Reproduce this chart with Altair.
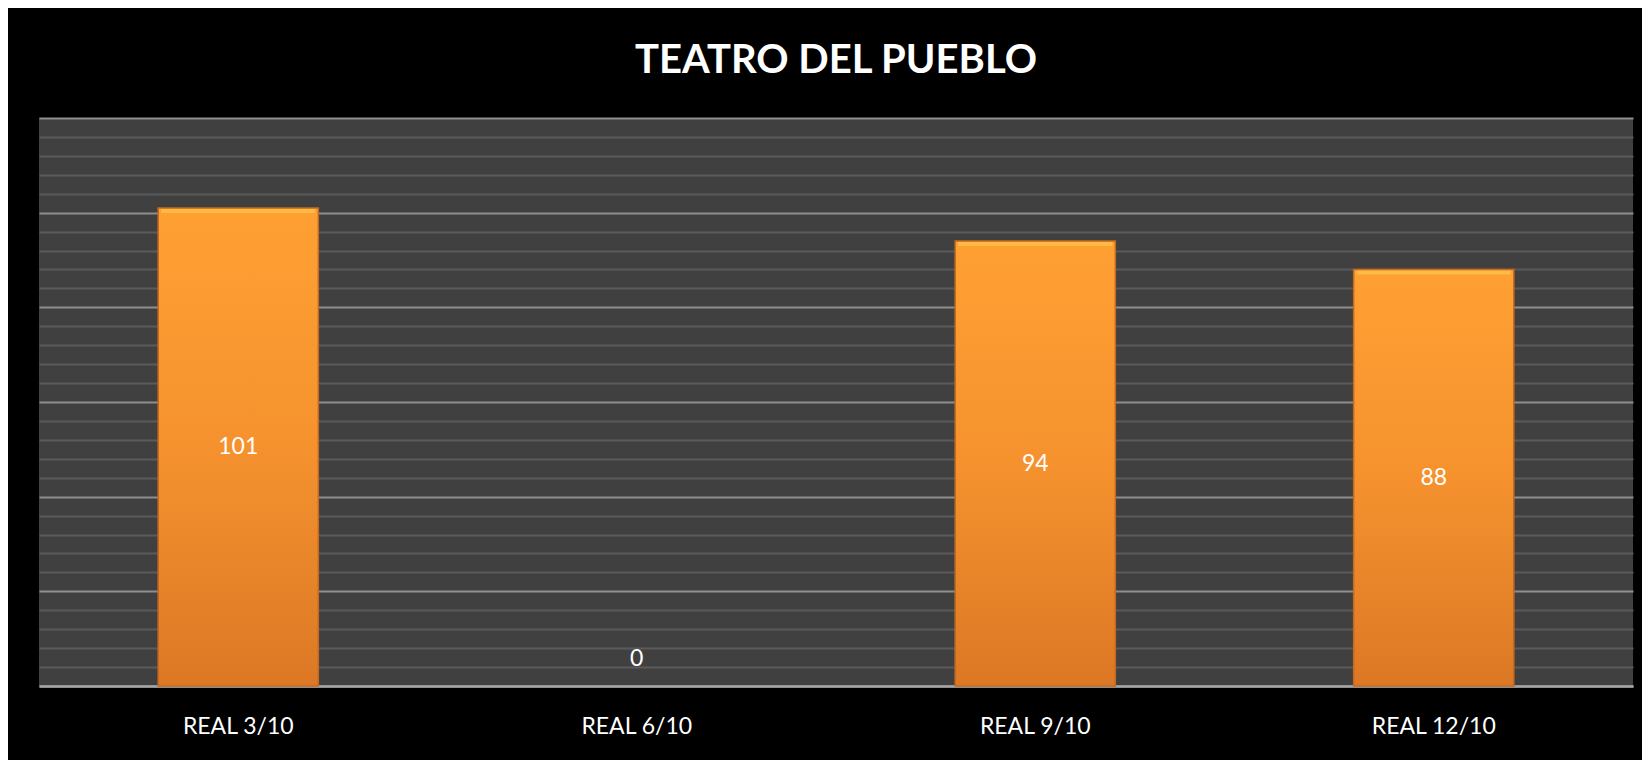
import altair as alt
import pandas as pd

categories = ["REAL 3/10", "REAL 6/10", "REAL 9/10", "REAL 12/10"]
values = [101, 0, 94, 88]
title_text = "TEATRO DEL PUEBLO"

df = pd.DataFrame({"cat": categories, "value": values})

FONT = "Lato"

x_enc = alt.X(
    "cat:N",
    sort=categories,
    scale=alt.Scale(paddingInner=0.598, paddingOuter=0.299),
    axis=alt.Axis(
        title=None, labelAngle=0, ticks=False, domain=True,
        domainColor="#a6a6a6", domainWidth=2.5, labelColor="white",
        labelFont=FONT, labelFontSize=23, labelPadding=29, grid=False,
    ),
)
y_scale = alt.Scale(domain=[0, 120], nice=False)
y_axis = alt.Axis(
    title=None, labels=False, ticks=False, domain=False, grid=True,
    values=list(range(0, 121, 4)),
    gridColor=alt.condition("datum.value % 20 === 0", alt.value("#8e8e8e"), alt.value("#5a5a5a")),
    gridWidth=2,
)


def yenc(field):
    return alt.Y(field, scale=y_scale, axis=y_axis)


base = alt.Chart(df)

bars = base.transform_filter("datum.value > 0").mark_bar(
    color=alt.Gradient(
        gradient="linear",
        stops=[alt.GradientStop(color="#FFA033", offset=0),
               alt.GradientStop(color="#F5922E", offset=0.5),
               alt.GradientStop(color="#DC7825", offset=1)],
        x1=1, x2=1, y1=0, y2=1,
    ),
    stroke="#C4691E", strokeWidth=1.5,
).encode(x=x_enc, y=yenc("value:Q"))

bevel = base.transform_filter("datum.value > 0").mark_tick(
    thickness=4, size=154, color="#FFC54F", yOffset=3
).encode(x=x_enc, y=yenc("value:Q"))

labels = base.transform_filter("datum.value > 0").transform_calculate(
    mid="datum.value / 2"
).mark_text(color="white", font=FONT, fontSize=23, baseline="middle").encode(
    x=x_enc, y=yenc("mid:Q"), text=alt.Text("value:Q", format="d")
)

zero_labels = base.transform_filter("datum.value == 0").mark_text(
    color="white", font=FONT, fontSize=23, baseline="middle", dy=-27
).encode(x=x_enc, y=yenc("value:Q"), text=alt.Text("value:Q", format="d"))

chart = alt.layer(bars, bevel, labels, zero_labels).properties(
    width=1594,
    height=568,
    title=alt.TitleParams(
        text=title_text, color="white", font=FONT, fontSize=40,
        fontWeight="bold", anchor="middle", offset=37,
    ),
    padding={"left": 31, "top": 110, "right": 9, "bottom": 74},
    autosize=alt.AutoSizeParams(type="none"),
    background="black",
).configure_view(fill="#404040", stroke=None)

chart.save("out.html", embed_options={"renderer": "svg", "actions": False})
